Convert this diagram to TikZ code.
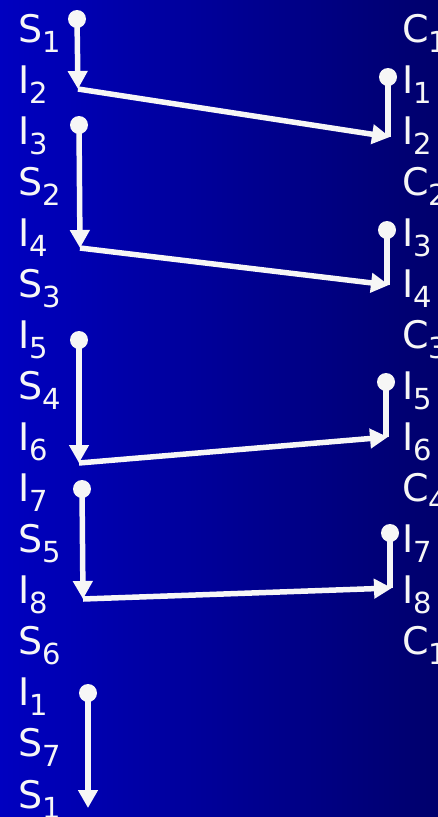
\documentclass[tikz,border=0pt]{standalone}
\usepackage{fontspec}
\setmainfont{DejaVu Sans}
\usetikzlibrary{arrows.meta}
\definecolor{bgleft}{RGB}{0,0,192}
\definecolor{bgright}{RGB}{0,0,108}
\definecolor{ink}{RGB}{246,246,246}
% letter with a lowered, smaller index
\newcommand{\lbl}[2]{#1\raisebox{-10pt}{\fontsize{29}{29}\selectfont #2}}

\begin{document}
\begin{tikzpicture}[x=1pt,y=-1pt,
  lab/.style={anchor=base west, inner sep=0pt, text=ink, font=\fontsize{38}{38}\selectfont},
  dotnode/.style={circle, fill=ink, minimum size=18pt, inner sep=0pt},
  flow/.style={draw=ink, line width=5.5pt, -{Triangle[width=19pt,length=18pt]}},
  stem/.style={draw=ink, line width=5.5pt}]
\useasboundingbox (0,0) rectangle (438,817);
\clip (0,0) rectangle (438,817);
\shade[left color=bgleft, right color=bgright] (0,0) rectangle (438,817);

% left column
\foreach [count=\k from 0] \a/\b in {S/1,I/2,I/3,S/2,I/4,S/3,I/5,S/4,I/6,I/7,S/5,I/8,S/6,I/1,S/7,S/1}
  \node[lab] (l\k) at (18,42+51.07*\k) {\lbl{\a}{\b}};

% right column
\foreach [count=\k from 0] \a/\b in {C/1,I/1,I/2,C/2,I/3,I/4,C/3,I/5,I/6,C/4,I/7,I/8,C/1}
  \node[lab] (r\k) at (402,42+51.07*\k) {\lbl{\a}{\b}};

% start points on the left
\node[dotnode] (d1) at (77,19) {};
\node[dotnode] (d2) at (79,125) {};
\node[dotnode] (d3) at (79,340) {};
\node[dotnode] (d4) at (82,489) {};
\node[dotnode] (d5) at (88,693) {};
% turning points on the left
\coordinate (c1) at (78,89);
\coordinate (c2) at (80,248);
\coordinate (c3) at (79,463);
\coordinate (c4) at (83,599);
\coordinate (c5) at (88,808);
% start points on the right
\node[dotnode] (e1) at (388,77) {};
\node[dotnode] (e2) at (387,230) {};
\node[dotnode] (e3) at (386,382) {};
\node[dotnode] (e4) at (390,533) {};
% end points on the right
\coordinate (f1) at (388,137);
\coordinate (f2) at (387,285);
\coordinate (f3) at (386,437);
\coordinate (f4) at (390,588);
\coordinate (t1) at (390,137);
\coordinate (t2) at (389,285);
\coordinate (t3) at (388,437);
\coordinate (t4) at (392,588);

% left descents
\draw[flow] (d1.center) -- (c1);
\draw[flow] (d2.center) -- (c2);
\draw[flow] (d3.center) -- (c3);
\draw[flow] (d4.center) -- (c4);
\draw[flow] (d5.center) -- (c5);
% right stems
\draw[stem] (e1.center) -- (f1);
\draw[stem] (e2.center) -- (f2);
\draw[stem] (e3.center) -- (f3);
\draw[stem] (e4.center) -- (f4);
% crossings
\draw[flow] (c1) -- (t1);
\draw[flow] (c2) -- (t2);
\draw[flow] (c3) -- (t3);
\draw[flow] (c4) -- (t4);
\end{tikzpicture}
\end{document}
